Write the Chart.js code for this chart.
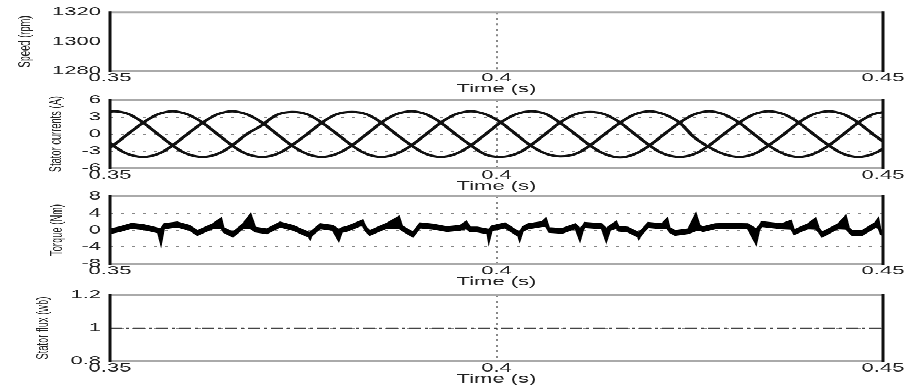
<!DOCTYPE html>
<html lang="en">
<head>
<meta charset="UTF-8">
<title>Drive waveforms</title>
<style>
    body { margin: 0; background: #fff; overflow: hidden; }
    /* figure is laid out tall, then squashed to 388px like the scanned original */
    #figure {
        position: relative;
        width: 908px;
        height: 706px;
        transform: scaleY(0.5496);
        transform-origin: 0 0;
    }
    .panel { position: absolute; left: 0; width: 908px; }
</style>
</head>
<body>
<div id="figure">
    <div class="panel" style="top:0px;height:175px"><canvas id="speed-chart"></canvas></div>
    <div class="panel" style="top:150px;height:202px"><canvas id="current-chart"></canvas></div>
    <div class="panel" style="top:326px;height:200px"><canvas id="torque-chart"></canvas></div>
    <div class="panel" style="top:506px;height:197px"><canvas id="flux-chart"></canvas></div>
</div>
<script src="https://cdn.jsdelivr.net/npm/chart.js"></script>
<script>
// shared time axis
const xTicks = [0.35, 0.4, 0.45];
const xTickLabels = ['0.35', '0.4', '0.45'];

// speed panel: only the axes, no trace inside the range
const speedTicks = [1280, 1300, 1320];

// stator currents, three phases
const currentTime = [0.3485, 0.3504, 0.3523, 0.3543, 0.3562, 0.3581, 0.3600, 0.3620, 0.3639, 0.3658,
    0.3677, 0.3697, 0.3716, 0.3735, 0.3755, 0.3774, 0.3793, 0.3813, 0.3832, 0.3851,
    0.3870, 0.3890, 0.3909, 0.3928, 0.3947, 0.3967, 0.3986, 0.4005, 0.4025, 0.4044,
    0.4063, 0.4082, 0.4102, 0.4121, 0.4140, 0.4160, 0.4179, 0.4198, 0.4217, 0.4237,
    0.4256, 0.4275, 0.4294, 0.4314, 0.4333, 0.4352, 0.4372, 0.4391, 0.4410, 0.4430,
    0.4449, 0.4468, 0.4487, 0.4507];
const phaseA = [3.5,
    4, 3.6, 2, 0, -2, -3.5, -4, -3.5, -2, 0, 1.6, 3.4,
    3.9, 3.5, 2, 0.1, -2, -3.5, -4, -3.5, -2, 0, 2, 3.5,
    4, 3.5, 2.1, 0, -2, -3.4, -3.9, -3.5, -2, 0, 2, 3.5,
    4, 3.5, 2, -0.6, -2.3, -3.5, -4, -3.5, -2, 0, 2, 3.5,
    4, 3.5, 2, 0, -2];
const phaseB = [-3.5,
    -2, 0, 2, 3.5, 4, 3.5, 2, 0, -2, -3.5, -4, -3.5,
    -2, 0, 2, 3.5, 3.9, 3.5, 2, 0, -2, -3.5, -4, -3.5,
    -2, 0, 2, 3.5, 4, 3.6, 2, 0, -2, -3.5, -4.1, -3.5,
    -2, 0, 2, 3.5, 4, 3.5, 2, 0, -2, -3.5, -4, -3.5,
    -2, 0, 2, 3.5, 4];
const phaseC = [0,
    -2, -3.5, -4, -3.5, -2, 0, 2, 3.5, 4, 3.5, 2, 0,
    -2, -3.5, -4, -3.5, -2, 0, 2, 3.5, 4, 3.5, 2, 0,
    -2, -3.6, -4, -3.5, -2, 0, 2, 3.5, 3.9, 3.5, 2, 0,
    -2, -3.5, -4, -3.5, -2, 0, 2, 3.5, 4, 3.5, 2, 0,
    -2, -3.5, -4, -3.5, -2];
const currentTicks = [-6, -3, 0, 3, 6];

// torque: upper and lower edge of the noisy band
const torqueTime = [0.3500, 0.3513, 0.3528, 0.3543, 0.3562, 0.3566, 0.3570, 0.3587, 0.3603, 0.3613,
    0.3633, 0.3644, 0.3647, 0.3659, 0.3672, 0.3682, 0.3688, 0.3703, 0.3720, 0.3737,
    0.3757, 0.3759, 0.3761, 0.3772, 0.3788, 0.3796, 0.3800, 0.3807, 0.3823, 0.3827,
    0.3831, 0.3836, 0.3858, 0.3874, 0.3878, 0.3892, 0.3901, 0.3918, 0.3936, 0.3953,
    0.3961, 0.3966, 0.3975, 0.3988, 0.3990, 0.3994, 0.4011, 0.4028, 0.4030, 0.4034,
    0.4041, 0.4059, 0.4064, 0.4068, 0.4085, 0.4102, 0.4108, 0.4112, 0.4114, 0.4136,
    0.4142, 0.4147, 0.4155, 0.4158, 0.4170, 0.4183, 0.4184, 0.4188, 0.4196, 0.4214,
    0.4221, 0.4224, 0.4231, 0.4248, 0.4258, 0.4263, 0.4267, 0.4283, 0.4299, 0.4325,
    0.4336, 0.4340, 0.4343, 0.4369, 0.4381, 0.4385, 0.4403, 0.4413, 0.4417, 0.4421,
    0.4442, 0.4452, 0.4456, 0.4460, 0.4473, 0.4490, 0.4494, 0.4497, 0.4500];
const torqueHigh = [0.3, 0.8, 1.6, 1.3, 0.5, 0.4, 1.5, 1.9, 1.1, -0.1,
    1.5, 2.9, 0.6, -0.5, 1.5, 3.9, 0.7, 0.3, 1.9, 1.1,
    -0.5, -0.5, -0.2, 1.5, 1.1, 0.2, 0.6, 0.9, 2.1, 2.4,
    0.8, -0.1, 1.6, 3.3, 1.0, -0.5, 1.7, 1.4, 0.8, 1.1,
    2.1, 0.7, 0.7, 0.3, 0.2, 1.0, 1.7, -0.3, -0.4, 0.8,
    1.5, 2.0, 2.9, 0.6, 0.4, 1.5, 0.4, 1.1, 1.8, 1.5,
    0.4, 1.1, 2.1, 0.9, 0.7, -0.5, -0.5, 0.1, 1.8, 1.5,
    2.9, 0.6, -0.1, 0.3, 4.0, 1.1, 0.8, 1.5, 1.6, 1.5,
    0.3, 1.1, 2.0, 1.5, 2.3, 0.1, 1.5, 2.9, 0.6, -0.5,
    1.5, 3.5, 0.6, -0.1, -0.1, 1.8, 2.9, 0.1, -0.1];
const torqueLow = [-0.9, -0.4, 0.4, 0.1, -0.7, -3.6, 0.3, 0.7, -0.1, -1.3,
    0.3, 0.4, -0.6, -1.7, 0.3, 0.3, -0.5, -0.9, 0.7, -0.1,
    -1.7, -2.3, -1.4, 0.3, -0.1, -2.7, -0.6, -0.3, 0.9, 0.9,
    -0.4, -1.3, 0.4, 0.4, -0.2, -1.7, 0.5, 0.2, -0.4, -0.1,
    0.3, -0.5, -0.5, -0.9, -3.1, -0.2, 0.5, -1.5, -2.7, -0.4,
    0.3, 0.8, 0.8, -0.6, -0.8, 0.3, -2.7, -0.1, 0.6, 0.3,
    -2.9, -0.1, 0.4, -0.3, -0.5, -1.7, -2.2, -1.1, 0.6, 0.3,
    0.3, -0.6, -1.3, -0.9, -0.2, -0.1, -0.4, 0.3, 0.4, 0.3,
    -3.5, -0.1, 0.8, 0.3, 0.2, -1.1, 0.3, 0.2, -0.6, -1.7,
    0.3, 0.2, -0.6, -1.3, -1.3, 0.6, 0.4, -1.1, -1.3];
const torqueTicks = [-8, -4, 0, 4, 8];

// stator flux
const fluxTime = [0.35, 0.4, 0.45];
const flux = [1, 1, 1];
const fluxTicks = [0.8, 1, 1.2];

const tickFont = { family: "'Liberation Sans', Arial, sans-serif", size: 22 };
const labelFont = { family: "'Liberation Sans', Arial, sans-serif", size: 17 };
const textColor = '#222';
const none = 'rgba(0,0,0,0)';

function points(xs, ys) {
    return xs.map((x, i) => ({ x: x, y: ys[i] }));
}

// box round the plot area: grey top/bottom, black sides
const framePlugin = {
    id: 'frame',
    afterDatasetsDraw(chart) {
        const { ctx, chartArea: a } = chart;
        ctx.save();
        ctx.strokeStyle = '#aaa';
        ctx.lineWidth = 4;
        ctx.beginPath();
        ctx.moveTo(a.left, a.top); ctx.lineTo(a.right, a.top);
        ctx.moveTo(a.left, a.bottom); ctx.lineTo(a.right, a.bottom);
        ctx.stroke();
        ctx.strokeStyle = '#111';
        ctx.lineWidth = 3;
        ctx.beginPath();
        ctx.moveTo(a.left, a.top - 2); ctx.lineTo(a.left, a.bottom + 2);
        ctx.moveTo(a.right, a.top - 2); ctx.lineTo(a.right, a.bottom + 2);
        ctx.stroke();
        ctx.restore();
    }
};

function makePanel(canvasId, cfg) {
    const yTicks = cfg.ticks;
    return new Chart(document.getElementById(canvasId), {
        type: 'line',
        data: { datasets: cfg.datasets },
        options: {
            responsive: true,
            maintainAspectRatio: false,
            animation: false,
            layout: { padding: { top: cfg.padTop, right: 25, bottom: 0, left: 0 } },
            plugins: { legend: { display: false }, tooltip: { enabled: false } },
            elements: { point: { radius: 0 } },
            scales: {
                x: {
                    type: 'linear',
                    min: 0.35,
                    max: 0.45,
                    afterBuildTicks: axis => { axis.ticks = xTicks.map(v => ({ value: v })); },
                    afterFit: axis => { axis.height = 46; },
                    ticks: {
                        callback: (v, i) => xTickLabels[i],
                        autoSkip: false, maxRotation: 0, padding: 0,
                        color: textColor, font: tickFont
                    },
                    grid: {
                        color: c => (c.tick && c.tick.value === 0.4) ? '#888' : none,
                        lineWidth: 2,
                        drawTicks: false
                    },
                    border: { display: false, dash: [4, 6] },
                    title: { display: true, text: 'Time (s)', color: textColor, font: tickFont, padding: 0 }
                },
                y: {
                    type: 'linear',
                    min: yTicks[0],
                    max: yTicks[yTicks.length - 1],
                    afterBuildTicks: axis => { axis.ticks = yTicks.map(v => ({ value: v })); },
                    afterFit: axis => { axis.width = 110; },
                    ticks: { callback: v => String(v), padding: 9, color: textColor, font: tickFont },
                    grid: {
                        color: c => (c.tick && cfg.grid.includes(c.tick.value)) ? '#888' : none,
                        lineWidth: 2,
                        drawTicks: false
                    },
                    border: { display: false, dash: [3, 8] },
                    title: {
                        display: true, text: cfg.title, color: textColor, font: labelFont,
                        padding: { top: cfg.titlePad, bottom: 0 }
                    }
                }
            }
        },
        plugins: [framePlugin]
    });
}

const phaseStyle = { borderColor: '#111', borderWidth: 4, tension: 0.4, fill: false };

makePanel('speed-chart', {
    padTop: 22, titlePad: 15, title: 'Speed (rpm)',
    ticks: speedTicks, grid: [],
    datasets: []
});

makePanel('current-chart', {
    padTop: 32, titlePad: 46, title: 'Stator currents (A)',
    ticks: currentTicks, grid: [-3, 0, 3],
    datasets: [
        Object.assign({ data: points(currentTime, phaseA) }, phaseStyle),
        Object.assign({ data: points(currentTime, phaseB) }, phaseStyle),
        Object.assign({ data: points(currentTime, phaseC) }, phaseStyle)
    ]
});

makePanel('torque-chart', {
    padTop: 31, titlePad: 47, title: 'Torque (Nm)',
    ticks: torqueTicks, grid: [-4, 0, 4],
    datasets: [
        { data: points(torqueTime, torqueHigh), borderColor: '#000', borderWidth: 1.5, backgroundColor: '#000', fill: '+1', tension: 0 },
        { data: points(torqueTime, torqueLow), borderColor: '#000', borderWidth: 1.5, fill: false, tension: 0 }
    ]
});

makePanel('flux-chart', {
    padTop: 31, titlePad: 33, title: 'Stator flux (wb)',
    ticks: fluxTicks, grid: [1],
    datasets: [
        { data: points(fluxTime, flux), borderColor: '#444', borderWidth: 2.5, borderDash: [12, 4, 3, 4], fill: false }
    ]
});
</script>
</body>
</html>
